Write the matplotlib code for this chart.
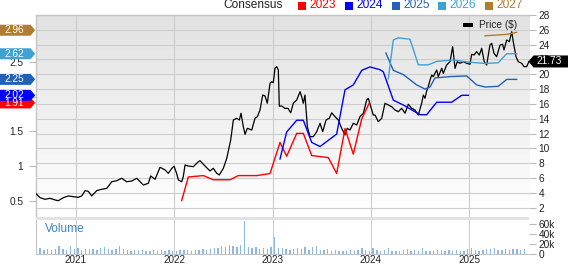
import numpy as np
import matplotlib
matplotlib.use('Agg')
import matplotlib.pyplot as plt
from matplotlib.patches import Polygon, Rectangle
from matplotlib.transforms import IdentityTransform
from matplotlib.colors import LinearSegmentedColormap

plt.rcParams['font.family'] = ['Liberation Sans', 'DejaVu Sans']

# ---------------- data ----------------
price_t = [2020.586, 2020.637, 2020.688, 2020.739, 2020.790, 2020.823, 2020.874, 2020.925, 2020.976, 2021.026,
           2021.061, 2021.095, 2021.128, 2021.163, 2021.213, 2021.264, 2021.315, 2021.366, 2021.417, 2021.467,
           2021.518, 2021.569, 2021.620, 2021.687, 2021.738, 2021.762, 2021.806, 2021.857, 2021.908, 2021.941,
           2021.976, 2021.999, 2022.026, 2022.043, 2022.077, 2022.093, 2022.111, 2022.144, 2022.195, 2022.246,
           2022.263, 2022.314, 2022.365, 2022.398, 2022.433, 2022.459, 2022.500, 2022.535, 2022.575, 2022.602,
           2022.636, 2022.663, 2022.680, 2022.703, 2022.721, 2022.744, 2022.789, 2022.822, 2022.846, 2022.873,
           2022.900, 2022.924, 2022.947, 2022.975, 2022.992, 2023.008, 2023.025, 2023.043, 2023.059, 2023.069,
           2023.093, 2023.127, 2023.158, 2023.185, 2023.211, 2023.246, 2023.280, 2023.297, 2023.313, 2023.330,
           2023.354, 2023.381, 2023.415, 2023.449, 2023.483, 2023.510, 2023.544, 2023.577, 2023.602, 2023.635,
           2023.669, 2023.703, 2023.737, 2023.760, 2023.788, 2023.821, 2023.856, 2023.889, 2023.923, 2023.957,
           2023.974, 2023.991, 2024.024, 2024.042, 2024.075, 2024.110, 2024.143, 2024.177, 2024.211, 2024.245,
           2024.278, 2024.313, 2024.347, 2024.380, 2024.415, 2024.448, 2024.482, 2024.516, 2024.533, 2024.550,
           2024.567, 2024.583, 2024.601, 2024.618, 2024.634, 2024.669, 2024.685, 2024.720, 2024.736, 2024.770,
           2024.804, 2024.831, 2024.855, 2024.878, 2024.906, 2024.939, 2024.974, 2025.007, 2025.024, 2025.048,
           2025.075, 2025.102, 2025.126, 2025.152, 2025.177, 2025.193, 2025.210, 2025.228, 2025.251, 2025.278,
           2025.313, 2025.339, 2025.353, 2025.380, 2025.407, 2025.431, 2025.447, 2025.475, 2025.498, 2025.533,
           2025.556, 2025.583, 2025.607]
price_v = [4.02, 3.35, 3.13, 3.26, 3.04, 2.94, 3.35, 3.58, 3.48, 3.40,
           3.58, 4.30, 4.20, 3.58, 4.30, 4.48, 4.60, 5.50, 5.64, 5.96,
           5.50, 5.60, 5.96, 5.06, 5.29, 6.28, 5.83, 7.45, 7.09, 6.64,
           7.30, 7.60, 6.60, 5.74, 5.50, 6.18, 7.76, 7.62, 7.53, 8.20,
           8.34, 7.62, 6.95, 7.31, 6.64, 6.41, 7.31, 8.66, 11.13, 13.83,
           14.06, 13.83, 14.74, 12.93, 11.90, 12.71, 12.48, 14.06, 14.28, 15.18,
           17.20, 17.07, 16.09, 18.79, 19.00, 18.87, 20.81, 21.03, 20.58, 15.70,
           15.72, 15.40, 15.40, 14.80, 16.09, 16.53, 17.65, 16.97, 16.09, 17.20,
           12.93, 11.58, 11.58, 12.25, 13.39, 12.25, 13.83, 14.06, 14.80, 14.28,
           13.83, 12.71, 11.81, 12.71, 12.48, 13.39, 13.16, 14.28, 14.74, 16.53,
           16.76, 16.00, 14.50, 14.50, 13.60, 14.06, 16.09, 15.86, 15.63, 15.18,
           14.95, 15.41, 14.74, 15.95, 15.41, 15.18, 14.50, 16.09, 17.20, 16.76,
           17.75, 18.33, 19.23, 19.90, 19.68, 20.58, 19.68, 20.81, 20.13, 21.25,
           21.70, 23.72, 20.80, 21.70, 21.48, 21.70, 21.48, 21.35, 22.70, 22.60,
           23.05, 22.60, 23.50, 21.70, 21.25, 22.60, 23.95, 24.18, 22.83, 22.37,
           23.95, 24.05, 23.28, 24.63, 24.40, 25.75, 24.40, 22.37, 21.70, 21.48,
           21.03, 21.03, 21.73]

eps2023_t = [2022.077, 2022.144, 2022.297, 2022.398, 2022.568, 2022.652, 2022.842, 2022.975, 2023.076, 2023.144,
             2023.246, 2023.313, 2023.398, 2023.567, 2023.652, 2023.737, 2023.821, 2023.907, 2023.984]
eps2023_v = [0.50, 0.84, 0.86, 0.80, 0.80, 0.86, 0.86, 0.89, 1.34, 1.14,
             1.47, 1.47, 1.15, 1.12, 0.89, 1.54, 1.17, 1.68, 1.91]

eps2024_t = [2023.076, 2023.144, 2023.246, 2023.313, 2023.398, 2023.483, 2023.652, 2023.737, 2023.821, 2023.907,
             2023.991, 2024.092, 2024.126, 2024.228, 2024.329, 2024.499, 2024.567, 2024.669, 2024.821, 2024.923,
             2024.990]
eps2024_v = [1.10, 1.49, 1.66, 1.66, 1.34, 1.28, 1.46, 2.10, 2.17, 2.38,
             2.43, 2.39, 2.36, 1.95, 1.88, 1.74, 1.74, 1.92, 1.92, 2.02,
             2.02]

eps2025_t = [2024.153, 2024.228, 2024.329, 2024.465, 2024.550, 2024.601, 2024.651, 2024.804, 2024.974, 2025.075,
             2025.160, 2025.295, 2025.380, 2025.482]
eps2025_v = [2.63, 2.38, 2.32, 2.17, 2.11, 2.14, 2.27, 2.29, 2.30, 2.17,
             2.14, 2.15, 2.25, 2.25]

eps2026_t = [2024.177, 2024.228, 2024.278, 2024.397, 2024.482, 2024.583, 2024.669, 2024.837, 2024.990, 2025.160,
             2025.295, 2025.380, 2025.482]
eps2026_v = [2.26, 2.82, 2.85, 2.83, 2.46, 2.46, 2.51, 2.53, 2.50, 2.48,
             2.49, 2.62, 2.62]

eps2027_t = [2025.160, 2025.380, 2025.482]
eps2027_v = [2.88, 2.90, 2.93]

tag_years = ['2023', '2024', '2025', '2026', '2027']
tag_values = [1.91, 2.02, 2.25, 2.62, 2.96]
last_price = 21.73

# biweekly volume (thousands)
vol_start = 2020.60
vol_k = [26, 12, 9, 10, 8, 11, 16, 10, 9, 16,
         11, 12, 9, 10, 11, 10, 9, 12, 15, 10,
         9, 11, 16, 10, 8, 7, 8, 7, 9, 6,
         7, 8, 7, 9, 7, 8, 6, 7, 9, 8,
         8, 7, 9, 8, 10, 9, 11, 13, 12, 17,
         14, 19, 16, 15, 18, 66, 15, 12, 14, 10,
         13, 11, 14, 34, 12, 12, 10, 9, 11, 13,
         10, 15, 9, 14, 16, 9, 8, 10, 7, 8,
         7, 7, 6, 8, 7, 9, 12, 8, 7, 13,
         8, 7, 8, 12, 7, 6, 7, 8, 11, 7,
         8, 7, 13, 7, 6, 7, 8, 9, 7, 8,
         7, 8, 7, 7, 10, 12, 8, 7, 9, 11,
         10, 12, 9, 8, 11, 9, 10, 11, 9, 10]
vol_t = vol_start + np.arange(len(vol_k)) * (2 / 52)

years = [2021, 2022, 2023, 2024, 2025]
price_ticks = list(range(2, 29, 2))
eps_ticks = [0.5, 1, 1.5, 2, 2.5]
vol_ticks = [0, 20, 40, 60]

# ---------------- styling ----------------
colors = {'2023': '#ff0000', '2024': '#0000ff', '2025': '#2262b4',
          '2026': '#3ea2d4', '2027': '#b07c2e'}
W, H = 568, 264
GRID = '#cdcdcd'
TXT = '#222222'
FS = 7.3

fig = plt.figure(figsize=(W / 100, H / 100), dpi=100)
fig.patch.set_facecolor('white')

L, R = 35.7, 529.0
ax = fig.add_axes([L / W, (H - 217) / H, (R - L) / W, (217 - 15) / H])
axv = fig.add_axes([L / W, (H - 254) / H, (R - L) / W, (254 - 219.5) / H])

xlim = (2020.593, 2025.607)

# gradient background
cmap = LinearSegmentedColormap.from_list('g', ['#e2e2e2', '#ffffff'])
ax.imshow(np.linspace(0, 1, 256).reshape(-1, 1), cmap=cmap, extent=[0, 1, 0, 1],
          transform=ax.transAxes, aspect='auto', zorder=-2)

# EPS axis (left) as twin; price on base axis (right)
ax2 = ax.twinx()

ax.plot(price_t, price_v, color='black', lw=0.9, zorder=3)
ax.set_xlim(*xlim)
ax.set_ylim(0.74, 28)
ax.yaxis.tick_right()
ax.yaxis.set_label_position('right')
ax.set_yticks(price_ticks)
ax.set_yticklabels([str(v) for v in price_ticks])
ax.set_xticks(years)
ax.tick_params(axis='x', length=0, labelbottom=False)
ax.tick_params(axis='y', which='both', left=False, labelleft=False, right=True, labelright=True,
               length=5, width=0.8, color='#bbbbbb', pad=2, labelsize=FS, labelcolor=TXT)
ax.set_axisbelow(True)
ax.grid(True, color=GRID, lw=0.8)
for s in ['bottom', 'right']:
    ax.spines[s].set_visible(False)
for s in ['top', 'left']:
    ax.spines[s].set_color('#c4c4c4')
    ax.spines[s].set_linewidth(1.0)

for t, v, k in [(eps2023_t, eps2023_v, '2023'), (eps2024_t, eps2024_v, '2024'),
                (eps2025_t, eps2025_v, '2025'), (eps2026_t, eps2026_v, '2026'),
                (eps2027_t, eps2027_v, '2027')]:
    ax2.plot(t, v, color=colors[k], lw=1.0, zorder=3)
ax2.set_xlim(*xlim)
ax2.set_ylim(0.262, 3.18)
ax2.set_yticks(eps_ticks)
ax2.set_yticklabels(['0.5', '1', '1.5', '2', '2.5'])
ax2.tick_params(axis='y', which='both', left=True, labelleft=True, right=False, labelright=False,
                length=5, width=0.8, color='#bbbbbb', pad=4, labelsize=FS, labelcolor=TXT)
for s in ax2.spines.values():
    s.set_visible(False)

# volume panel
axv.bar(vol_t, vol_k, width=0.014, color='#8db8e2', edgecolor='none', zorder=2)
axv.set_xlim(*xlim)
axv.set_ylim(0, 70)
axv.yaxis.tick_right()
axv.set_yticks(vol_ticks)
axv.set_yticklabels(['0', '20k', '40k', '60k'])
axv.set_xticks(years)
axv.set_xticklabels([str(y) for y in years])
axv.tick_params(axis='x', length=2.5, width=0.8, color='#bbbbbb', pad=-1.6, labelsize=7.1,
                labelcolor=TXT)
axv.tick_params(axis='y', length=5, width=0.8, color='#bbbbbb', pad=2, labelsize=FS,
                labelcolor=TXT)
axv.grid(True, axis='x', color=GRID, lw=0.8)
axv.set_axisbelow(True)
for s in ['top', 'right']:
    axv.spines[s].set_visible(False)
for s in ['bottom', 'left']:
    axv.spines[s].set_color('#c4c4c4')
fig.text(45 / W, (H - 229) / H, 'Volume', color='#3d86c6', fontsize=8.6, va='center', ha='left')

# separator band between panels
fig.add_artist(Rectangle((L, H - 219.5), R - L, 2.6, transform=IdentityTransform(),
                         fc='#e2e2e2', ec='none', zorder=5))

# ---------------- legend ----------------
ytop = H - 5.5
fig.text(223 / W, ytop / H, 'Consensus', fontsize=8.6, color=TXT, va='center', ha='left')
leg_sq_x = [298.3, 345.0, 391.7, 438.3, 485.0]
for xs, k in zip(leg_sq_x, tag_years):
    fig.add_artist(Rectangle((xs, ytop - 4), 8, 8, transform=IdentityTransform(),
                             fc=colors[k], ec='none', zorder=6))
    fig.text((xs + 11.5) / W, ytop / H, k, fontsize=8.6, color=colors[k], va='center', ha='left')

# price legend inside plot
fig.add_artist(Rectangle((463, H - 27), 10, 4.5, transform=IdentityTransform(),
                         fc='black', ec='none', zorder=6))
fig.text(479 / W, (H - 25) / H, 'Price ($)', fontsize=FS, color=TXT, va='center', ha='left',
         zorder=7)

# ---------------- value tags ----------------
fig.canvas.draw()
for k, v in zip(tag_years, tag_values):
    _, yd = ax2.transData.transform((xlim[0], v))
    pts = [(0, yd + 5.5), (30.5, yd + 5.5), (35.2, yd), (30.5, yd - 5.5), (0, yd - 5.5)]
    fig.add_artist(Polygon(pts, closed=True, transform=IdentityTransform(),
                           fc=colors[k], ec='none', zorder=10))
    fig.text(14.5 / W, yd / H, f'{v:.2f}', fontsize=FS, color='white', va='center',
             ha='center', zorder=11)

_, yp = ax.transData.transform((xlim[1], last_price))
pts = [(528.5, yp), (533.5, yp + 6), (W, yp + 6), (W, yp - 6), (533.5, yp - 6)]
fig.add_artist(Polygon(pts, closed=True, transform=IdentityTransform(),
                       fc='black', ec='none', zorder=10))
fig.text(549.5 / W, yp / H, f'{last_price:.2f}', fontsize=FS, color='white', va='center',
         ha='center', zorder=11)

fig.savefig('out.png', dpi=100)
